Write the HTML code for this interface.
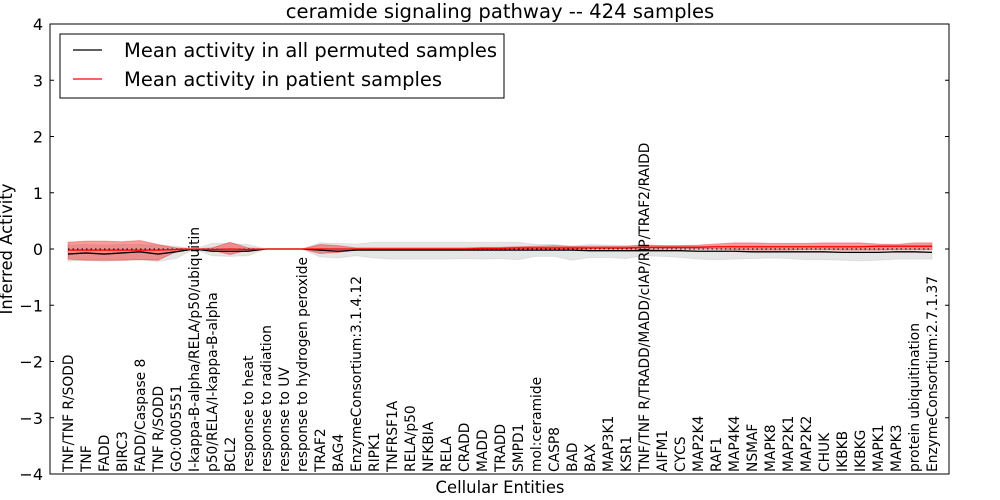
<!DOCTYPE html>
<html><head><meta charset="utf-8"><style>
body{margin:0;background:#fff;}
svg{display:block;font-family:"DejaVu Sans","Liberation Sans",sans-serif;}
</style></head><body>
<svg id="chart" width="1000" height="500"></svg>
<script>
const categories=["TNF/TNF R/SODD","TNF","FADD","BIRC3","FADD/Caspase 8","TNF R/SODD","GO:0005551","I-kappa-B-alpha/RELA/p50/ubiquitin","p50/RELA/I-kappa-B-alpha","BCL2","response to heat","response to radiation","response to UV","response to hydrogen peroxide","TRAF2","BAG4","EnzymeConsortium:3.1.4.12","RIPK1","TNFRSF1A","RELA/p50","NFKBIA","RELA","CRADD","MADD","TRADD","SMPD1","mol:ceramide","CASP8","BAD","BAX","MAP3K1","KSR1","TNF/TNF R/TRADD/MADD/cIAP/RIP/TRAF2/RAIDD","AIFM1","CYCS","MAP2K4","RAF1","MAP4K4","NSMAF","MAPK8","MAP2K1","MAP2K2","CHUK","IKBKB","IKBKG","MAPK1","MAPK3","protein ubiquitination","EnzymeConsortium:2.7.1.37"];
const permMean=[-0.09,-0.07,-0.09,-0.07,-0.05,-0.09,-0.05,0,-0.04,-0.04,-0.04,0,0,0,-0.02,-0.04,-0.02,-0.02,-0.02,-0.02,-0.02,-0.02,-0.02,-0.02,-0.02,-0.02,-0.02,-0.02,-0.02,-0.03,-0.03,-0.03,-0.03,-0.03,-0.03,-0.04,-0.04,-0.04,-0.05,-0.05,-0.05,-0.05,-0.05,-0.06,-0.06,-0.06,-0.05,-0.05,-0.06];
const permLow=[-0.22,-0.2,-0.22,-0.2,-0.19,-0.22,-0.17,0,-0.12,-0.13,-0.12,0,0,0,-0.14,-0.16,-0.12,-0.16,-0.18,-0.18,-0.18,-0.18,-0.17,-0.18,-0.17,-0.19,-0.13,-0.13,-0.2,-0.15,-0.15,-0.17,-0.12,-0.13,-0.15,-0.18,-0.19,-0.18,-0.17,-0.16,-0.17,-0.19,-0.19,-0.2,-0.21,-0.2,-0.18,-0.18,-0.18];
const permHigh=[0.07,0.08,0.07,0.08,0.08,0.07,0.05,0,0.1,0.1,0.08,0,0,0,0.11,0.1,0.09,0.12,0.12,0.12,0.12,0.12,0.12,0.12,0.12,0.12,0.08,0.08,0.05,0.08,0.07,0.06,0.07,0.06,0.06,0.05,0.05,0.05,0.05,0.05,0.05,0.05,0.05,0.05,0.05,0.05,0.05,0.05,0.05];
const patMean=[-0.02,-0.02,-0.02,-0.02,-0.02,-0.02,-0.01,0,-0.01,0,-0.01,0,0,0,0,0,0,0,0,0,0,0,0,0.01,0.01,0.02,0.02,0.02,0.02,0.02,0.02,0.02,0.03,0.03,0.03,0.03,0.04,0.04,0.04,0.04,0.04,0.04,0.04,0.04,0.04,0.05,0.05,0.05,0.05];
const patLow=[-0.18,-0.2,-0.2,-0.2,-0.19,-0.2,-0.05,0,-0.02,-0.1,-0.02,0,0,0,-0.08,-0.06,-0.02,-0.01,-0.01,-0.01,-0.01,-0.01,-0.01,-0.01,-0.01,0,0,0,0,0,0,0,-0.01,0,0,0,0,-0.01,-0.02,-0.02,-0.02,-0.01,-0.01,-0.02,-0.02,-0.02,-0.01,-0.01,-0.01];
const patHigh=[0.12,0.14,0.14,0.13,0.15,0.08,0.02,0,0.02,0.12,0.02,0,0,0,0.08,0.06,0.02,0.02,0.02,0.02,0.02,0.02,0.02,0.03,0.03,0.04,0.05,0.06,0.05,0.05,0.05,0.05,0.07,0.06,0.06,0.07,0.09,0.11,0.11,0.1,0.1,0.1,0.11,0.11,0.11,0.09,0.08,0.11,0.11];
const yTicks=[-4,-3,-2,-1,0,1,2,3,4];

const NS="http://www.w3.org/2000/svg",svg=document.getElementById("chart");
const L=50,R=949,T=24,B=474;
const xs=i=>68+i*(932-68)/(categories.length-1);
const ys=v=>T+(4-v)*(B-T)/8;
function mk(tag,attrs,parent){const e=document.createElementNS(NS,tag);for(const k in attrs)e.setAttribute(k,attrs[k]);(parent||svg).appendChild(e);return e;}
function band(lo,hi,fill,op,name){
  let d="M"+lo.map((v,i)=>xs(i)+","+ys(hi[i])).join("L");
  d+="L"+lo.map((v,i)=>i).reverse().map(i=>xs(i)+","+ys(lo[i])).join("L")+"Z";
  const p=mk("path",{d:d,fill:fill,"fill-opacity":op,stroke:fill,"stroke-opacity":op*0.8,"stroke-width":1});
  
  
}
function line(arr,col,name){
  const p=mk("polyline",{points:arr.map((v,i)=>xs(i)+","+ys(v)).join(" "),fill:"none",stroke:col,"stroke-width":1.3});
  
  
}
band(permLow,permHigh,"#aaaaaa",0.3,"permuted-band");
band(patLow,patHigh,"#ee2222",0.45,"patient-band");
line(permMean,"#000","permuted-mean-line");
const z=mk("line",{x1:xs(0),x2:xs(categories.length-1),y1:ys(0),y2:ys(0),stroke:"#000","stroke-width":1,"stroke-dasharray":"1.5,3"});


line(patMean,"#ff0000","patient-mean-line");

const fr=mk("rect",{x:L,y:T,width:R-L,height:B-T,fill:"none",stroke:"#000","stroke-width":1});


yTicks.forEach(v=>{
  const y=ys(v);
  mk("line",{x1:L,x2:L+4,y1:y,y2:y,stroke:"#000"});
  mk("line",{x1:R-4,x2:R,y1:y,y2:y,stroke:"#000"});
  const t=mk("text",{x:L-7,y:y+6,"text-anchor":"end","font-size":16,fill:"#000"});
  t.textContent=v<0?"\u2212"+(-v):String(v);
  
  
});
categories.forEach((c,i)=>{
  const x=xs(i)+5;
  const t=mk("text",{x:x,y:472,transform:"rotate(-90 "+x+" 472)","font-size":13.8,fill:"#000"});
  t.textContent=c;
  
  
});
const ti=mk("text",{x:500,y:18,"text-anchor":"middle","font-size":19.6});
ti.textContent="ceramide signaling pathway -- 424 samples";


const xl=mk("text",{x:500,y:493,"text-anchor":"middle","font-size":16.4});
xl.textContent="Cellular Entities";


const yl=mk("text",{x:12,y:249,"text-anchor":"middle","font-size":16.4,transform:"rotate(-90 12 249)"});
yl.textContent="Inferred Activity";



const lg=mk("g",{});


mk("rect",{x:60,y:34,width:444,height:64,fill:"#fff",stroke:"#000"},lg);
mk("line",{x1:73,x2:102,y1:50,y2:50,stroke:"#000","stroke-width":1.2},lg);
mk("line",{x1:73,x2:102,y1:79,y2:79,stroke:"#ff0000","stroke-width":1.2},lg);
const l1=mk("text",{x:124,y:57,"font-size":19.5},lg);l1.textContent="Mean activity in all permuted samples";


const l2=mk("text",{x:124,y:86,"font-size":19.5},lg);l2.textContent="Mean activity in patient samples";


</script>
</body></html>
